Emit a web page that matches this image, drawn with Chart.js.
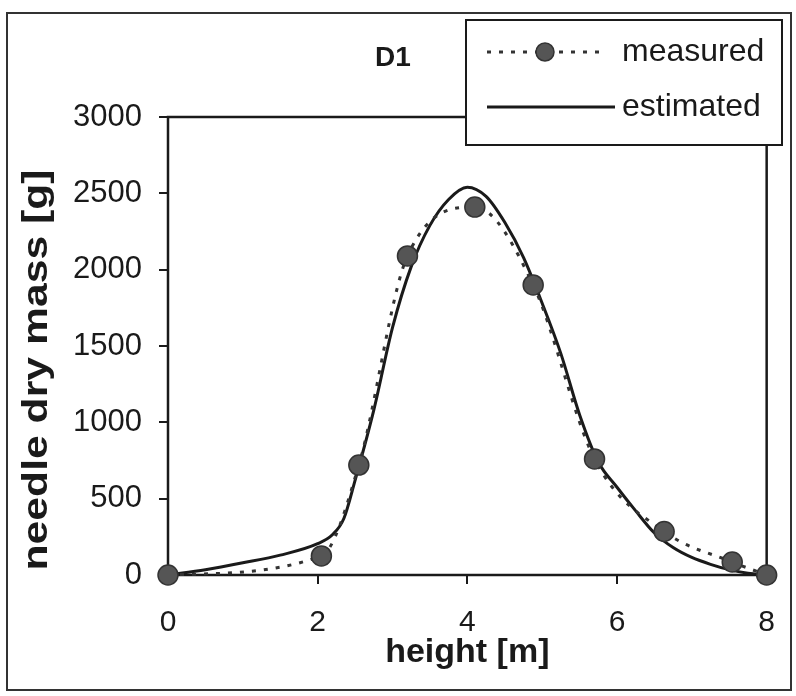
<!DOCTYPE html>
<html>
<head>
<meta charset="utf-8">
<script src="https://cdn.jsdelivr.net/npm/chart.js@4"></script>
<style>
  html, body { margin: 0; padding: 0; background: #fff; }
  #wrap { width: 796px; height: 696px; }
</style>
</head>
<body>
<div id="wrap"><canvas id="myChart" width="796" height="696"></canvas></div>
<script>
// measured needle dry mass along the stem (D1)
let heightMeasured = [0, 2.05, 2.55, 3.2, 4.1, 4.88, 5.7, 6.63, 7.54, 8];
let massMeasured = [0, 125, 720, 2090, 2410, 1900, 760, 285, 85, 0];

// model estimate
let heightEstimated = [0, 0.5, 1, 1.5, 2, 2.2, 2.35, 2.5, 2.75, 3, 3.25, 3.5, 3.75, 4, 4.25, 4.5, 4.75, 5, 5.25, 5.5, 5.75, 6, 6.25, 6.5, 6.75, 7, 7.25, 7.5, 7.75, 8];
let massEstimated = [0, 35, 80, 130, 205, 265, 370, 620, 1080, 1620, 2020, 2290, 2460, 2540, 2480, 2310, 2080, 1780, 1450, 1050, 740, 575, 420, 275, 180, 115, 70, 35, 12, 0];

let xTicks = [0, 2, 4, 6, 8];
let yTicks = [0, 500, 1000, 1500, 2000, 2500, 3000];

let seriesNames = ['measured', 'estimated'];
let chartTitle = 'D1';
let xTitle = 'height [m]';
let yTitle = 'needle dry mass [g]';

const FONT = '"Liberation Sans", Arial, sans-serif';
const INK = '#1a1a1a';

// zip x and y lists into point objects
function toPoints(xs, ys) {
    let pts = [];
    for (let i = 0; i < xs.length; i++) {
        pts.push({x: xs[i], y: ys[i]});
    }
    return pts;
}

// white page + outer frame, plot box, titles and legend
const decor = {
    id: 'decor',
    beforeDraw(chart) {
        const c = chart.ctx;
        c.save();
        c.fillStyle = '#fff';
        c.fillRect(0, 0, chart.width, chart.height);
        c.strokeStyle = '#333';
        c.lineWidth = 2;
        c.strokeRect(7, 13, 784, 677);
        c.restore();
    },
    beforeDatasetsDraw(chart) {
        const a = chart.chartArea;
        const c = chart.ctx;
        c.save();
        c.strokeStyle = INK;
        c.lineWidth = 2.5;
        c.strokeRect(a.left, a.top, a.right - a.left, a.bottom - a.top);
        c.restore();
    },
    afterDraw(chart) {
        const c = chart.ctx;
        c.save();
        // title
        c.fillStyle = INK;
        c.font = 'bold 28px ' + FONT;
        c.textAlign = 'center';
        c.textBaseline = 'middle';
        c.fillText(chartTitle, 393, 58);

        // y axis title (sits a bit low and looks stretched, as in the original)
        c.save();
        c.translate(37, 370);
        c.rotate(-Math.PI / 2);
        c.scale(1.22, 1);
        c.font = 'bold 35px ' + FONT;
        c.fillText(yTitle, 0, 0);
        c.restore();

        // legend box
        c.fillStyle = '#fff';
        c.fillRect(466, 20, 316, 125);
        c.strokeStyle = INK;
        c.lineWidth = 2;
        c.strokeRect(466, 20, 316, 125);

        // measured entry
        c.strokeStyle = '#333';
        c.lineWidth = 3;
        c.setLineDash([4, 8]);
        c.beginPath();
        c.moveTo(487, 52);
        c.lineTo(603, 52);
        c.stroke();
        c.setLineDash([]);
        c.beginPath();
        c.arc(545, 52, 9, 0, Math.PI * 2);
        c.fillStyle = '#555';
        c.fill();
        c.lineWidth = 1.5;
        c.strokeStyle = '#333';
        c.stroke();

        // estimated entry
        c.strokeStyle = INK;
        c.lineWidth = 3;
        c.beginPath();
        c.moveTo(487, 107);
        c.lineTo(615, 107);
        c.stroke();

        c.fillStyle = INK;
        c.font = '32px ' + FONT;
        c.textAlign = 'left';
        c.fillText(seriesNames[0], 622, 52);
        c.fillText(seriesNames[1], 622, 107);
        c.restore();
    }
};

let ctx = document.getElementById('myChart');

let myChart = new Chart(ctx, {
    type: 'scatter',
    data: {
        datasets: [{
            label: seriesNames[0],
            data: toPoints(heightMeasured, massMeasured),
            showLine: true,
            borderColor: '#333',
            borderWidth: 3,
            borderDash: [4, 8],
            cubicInterpolationMode: 'monotone',
            pointRadius: 10,
            pointBackgroundColor: '#555',
            pointBorderColor: '#333',
            pointBorderWidth: 1.5,
            clip: false
        }, {
            label: seriesNames[1],
            data: toPoints(heightEstimated, massEstimated),
            showLine: true,
            borderColor: INK,
            borderWidth: 3,
            cubicInterpolationMode: 'monotone',
            pointRadius: 0,
            clip: false
        }]
    },
    options: {
        responsive: false,
        animation: false,
        events: [],
        layout: {padding: {left: 8, top: 117, right: 21, bottom: 10}},
        plugins: {
            legend: {display: false},
            title: {display: false},
            tooltip: {enabled: false}
        },
        scales: {
            x: {
                type: 'linear',
                min: xTicks[0],
                max: xTicks[xTicks.length - 1],
                afterBuildTicks: s => { s.ticks = xTicks.map(v => ({value: v})); },
                afterFit: s => { s.height = 111; },
                grid: {drawOnChartArea: false, drawTicks: true, tickLength: 9, color: INK, lineWidth: 2},
                border: {display: false},
                ticks: {color: INK, padding: 21, font: {family: FONT, size: 30}, maxRotation: 0, callback: v => String(v)},
                title: {display: true, text: xTitle, color: INK, padding: {top: 0, bottom: 13}, font: {family: FONT, size: 34, weight: 'bold'}}
            },
            y: {
                type: 'linear',
                min: yTicks[0],
                max: yTicks[yTicks.length - 1],
                afterBuildTicks: s => { s.ticks = yTicks.map(v => ({value: v})); },
                afterFit: s => { s.width = 160; },
                grid: {drawOnChartArea: false, drawTicks: true, tickLength: 9, color: INK, lineWidth: 2},
                border: {display: false},
                ticks: {color: INK, padding: 17, font: {family: FONT, size: 31}, callback: v => String(v)}
            }
        }
    },
    plugins: [decor]
});
</script>
</body>
</html>
